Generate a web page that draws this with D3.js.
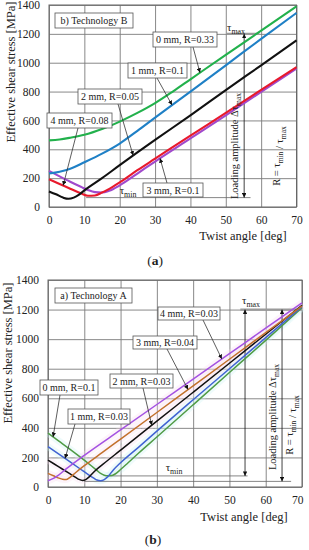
<!DOCTYPE html>
<head>
<meta charset="utf-8" />
<script src="https://d3js.org/d3.v7.min.js"></script>
<style>
    body { margin: 0; background: #fff; }
    svg text { font-family: "Liberation Serif", "DejaVu Serif", serif; fill: #222; }
</style>
</head>
<body>
<div id="chart"></div>
<script>
// twist angle [deg], effective shear stress [MPa]
var xTicks = [0, 10, 20, 30, 40, 50, 60, 70];
var yTicks = [0, 200, 400, 600, 800, 1000, 1200, 1400];

// b) Technology B
var techB_labels = ["0 mm, R=0.33", "1 mm, R=0.1", "2 mm, R=0.05", "3 mm, R=0.1", "4 mm, R=0.08"];
var techB_0mm = [[0,462],[3,468],[6,480],[10,500],[15,540],[20,592],[25,652],[30,720],[35,800],[40,885],[50,1055],[60,1222],[70,1390]];
var techB_1mm = [[0,232],[3,245],[6,265],[10,310],[15,370],[20,440],[25,528],[30,620],[40,800],[50,982],[60,1165],[70,1345]];
var techB_2mm = [[0,108],[2,88],[4,65],[5.5,57],[7,65],[8.5,85],[10,115],[15,200],[20,290],[25,378],[30,465],[40,635],[50,810],[60,982],[70,1155]];
var techB_3mm = [[0,192],[3,160],[6,127],[9,95],[11,78],[13,80],[15,100],[18,140],[20,170],[25,255],[30,335],[40,495],[50,652],[60,812],[70,970]];
var techB_4mm = [[0,250],[3,212],[6,175],[9,140],[11,118],[13,103],[15,100],[17,112],[20,150],[25,232],[30,315],[40,475],[50,635],[60,798],[70,960]];

// a) Technology A
var techA_labels = ["0 mm, R=0.1", "1 mm, R=0.03", "2 mm, R=0.03", "3 mm, R=0.04", "4 mm, R=0.03"];
var techA_0mm = [[0,364],[3,310],[6,256],[9,200],[12,142],[13.5,112],[14.5,92],[15.5,80],[16.5,76],[17.5,77],[18.5,88],[20,118],[22,162],[25,230],[30,338],[40,556],[50,774],[60,992],[70,1212]];
var techA_1mm = [[0,273],[3,222],[6,171],[9,120],[11,86],[12.5,62],[13.5,47],[14.5,42],[15.5,50],[16.5,70],[18,115],[20,164],[25,270],[30,378],[40,590],[50,800],[60,1010],[70,1220]];
var techA_2mm = [[0,182],[3,136],[6,90],[7.5,67],[8.5,52],[9.5,44],[10.5,52],[11.5,72],[13,110],[15,151],[20,249],[25,347],[30,445],[40,641],[50,837],[60,1033],[70,1229]];
var techA_3mm = [[0,92],[1.5,76],[3,60],[4,52],[5,50],[6,64],[7.5,95],[10,144],[15,234],[20,324],[30,504],[40,684],[50,864],[60,1044],[70,1224]];
var techA_4mm = [[0,42],[1.5,58],[3,82],[5,122],[10,214],[20,386],[30,558],[40,730],[50,902],[60,1074],[70,1245]];

var width = 309, height = 550;
var serif = "'Liberation Serif', 'DejaVu Serif', serif";

var svg = d3.select("#chart")
    .append("svg")
    .attr("width", width)
    .attr("height", height)
    .attr("font-family", serif);

svg.append("rect").attr("width", width).attr("height", height).attr("fill", "#fff");

svg.append("defs").append("marker")
    .attr("id", "head")
    .attr("viewBox", "0 0 6 6")
    .attr("refX", 6).attr("refY", 3)
    .attr("markerUnits", "userSpaceOnUse")
    .attr("markerWidth", 4.5).attr("markerHeight", 4.5)
    .attr("orient", "auto-start-reverse")
    .append("path").attr("d", "M0,0L6,3L0,6Z").attr("fill", "#111");

// value of a series at a given angle (for pointing arrows at curves)
function valueAt(series, a) {
    for (var i = 1; i < series.length; i++) {
        if (a <= series[i][0]) {
            var p = series[i - 1], q = series[i];
            return p[1] + (q[1] - p[1]) * (a - p[0]) / (q[0] - p[0]);
        }
    }
    return series[series.length - 1][1];
}

// "τ" + subscript
function tau(text, sub, size) {
    text.append("tspan").text("τ");
    text.append("tspan").attr("font-size", size * 0.72).attr("dy", size * 0.3).text(sub);
    text.append("tspan").attr("dy", -size * 0.3).text("");
}

function drawPanel(p) {
    var x = d3.scaleLinear().domain([0, 70]).range([p.left, p.right]);
    var y = d3.scaleLinear().domain([0, 1400]).range([p.bottom, p.top]);
    var g = svg.append("g");

    // grid + tick labels
    var gx = g.append("g")
        .attr("transform", "translate(0," + p.bottom + ")")
        .call(d3.axisBottom(x).tickValues(xTicks).tickFormat(d3.format("d"))
            .tickSizeInner(-(p.bottom - p.top)).tickSizeOuter(0).tickPadding(9));
    var gy = g.append("g")
        .attr("transform", "translate(" + p.left + ",0)")
        .call(d3.axisLeft(y).tickValues(yTicks).tickFormat(d3.format("d"))
            .tickSizeInner(-(p.right - p.left)).tickSizeOuter(0).tickPadding(9));
    [gx, gy].forEach(function(a) {
        a.attr("font-family", serif);
        a.select(".domain").remove();
        a.selectAll("line").attr("stroke", "#7a7a7a").attr("stroke-width", 0.9);
        a.selectAll("text").attr("font-size", 11.5).attr("fill", "#333");
    });
    if (p.lastTickEnd) {
        gx.selectAll("text").filter(function(d) { return d === 70; })
            .attr("text-anchor", "end").attr("x", 1);
    }

    g.append("rect")
        .attr("x", p.left).attr("y", p.top)
        .attr("width", p.right - p.left).attr("height", p.bottom - p.top)
        .attr("fill", "none").attr("stroke", "#666").attr("stroke-width", 1);

    var line = d3.line()
        .x(function(d) { return x(d[0]); })
        .y(function(d) { return y(d[1]); })
        .curve(d3.curveMonotoneX);

    if (p.halo) {
        g.selectAll(".halo")
            .data(p.series)
            .join("path")
            .attr("d", function(d) { return line(d.values); })
            .attr("fill", "none")
            .attr("stroke", function(d, i) { return i < 2 ? "#c9f3f1" : "#f7d9ef"; })
            .attr("stroke-width", 7)
            .attr("opacity", 0.3);
    }

    // τ lines and amplitude arrows
    g.append("line")
        .attr("x1", x(p.tmax[0])).attr("x2", x(p.tmax[1]))
        .attr("y1", y(1200)).attr("y2", y(1200))
        .attr("stroke", "#9a9a9a").attr("stroke-width", 2.2);
    p.tmins.forEach(function(t) {
        g.append("line")
            .attr("x1", x(t[1])).attr("x2", x(t[2]))
            .attr("y1", y(t[0])).attr("y2", y(t[0]))
            .attr("stroke", "#666").attr("stroke-width", 0.8);
    });
    p.amps.forEach(function(a) {
        g.append("line")
            .attr("x1", x(a[0])).attr("x2", x(a[0]))
            .attr("y1", y(1200)).attr("y2", y(a[1]))
            .attr("stroke", "#111").attr("stroke-width", 0.8)
            .attr("marker-start", "url(#head)")
            .attr("marker-end", "url(#head)");
    });

    g.selectAll(".curve")
        .data(p.series)
        .join("path")
        .attr("d", function(d) { return line(d.values); })
        .attr("fill", "none")
        .attr("stroke", function(d) { return d.color; })
        .attr("stroke-width", p.lineWidth);

    var tmaxLabel = g.append("text").attr("x", p.tmaxLabel[0]).attr("y", p.tmaxLabel[1])
        .attr("text-anchor", "middle").attr("font-size", 11);
    tau(tmaxLabel, "max", 11);
    var tminLabel = g.append("text").attr("x", p.tminLabel[0]).attr("y", p.tminLabel[1])
        .attr("text-anchor", "middle").attr("font-size", 11);
    tau(tminLabel, "min", 11);

    // labelled boxes with arrows to the curves
    p.notes.forEach(function(n) {
        if (n.series != null) {
            var s = p.series[n.series].values;
            var y0 = n.up ? n.box[1] : n.box[1] + n.box[3];
            g.append("line")
                .attr("x1", n.from).attr("y1", y0)
                .attr("x2", x(n.at)).attr("y2", y(valueAt(s, n.at)))
                .attr("stroke", "#333").attr("stroke-width", 0.8)
                .attr("marker-end", "url(#head)");
        }
        g.append("rect")
            .attr("x", n.box[0]).attr("y", n.box[1])
            .attr("width", n.box[2]).attr("height", n.box[3])
            .attr("fill", "#fff").attr("stroke", "#555").attr("stroke-width", 0.8);
        g.append("text")
            .attr("x", n.box[0] + n.box[2] / 2).attr("y", n.box[1] + n.box[3] / 2 + 3.6)
            .attr("text-anchor", "middle").attr("font-size", 10)
            .text(n.text);
    });

    // rotated notes
    var amp = g.append("text")
        .attr("transform", "translate(" + p.ampText[0] + "," + p.ampText[1] + ") rotate(-90)")
        .attr("text-anchor", "middle").attr("font-size", 10.5);
    amp.append("tspan").text("Loading amplitude Δ");
    tau(amp, "max", 10.5);

    var r = g.append("text")
        .attr("transform", "translate(" + p.rText[0] + "," + p.rText[1] + ") rotate(-90)")
        .attr("text-anchor", "middle").attr("font-size", 10.5);
    r.append("tspan").text("R = ");
    tau(r, "min", 10.5);
    r.append("tspan").text(" / ");
    tau(r, "max", 10.5);

    // axis titles
    g.append("text")
        .attr("transform", "translate(" + p.yTitle[0] + "," + p.yTitle[1] + ") rotate(-90)")
        .attr("text-anchor", "middle").attr("dy", "0.35em").attr("font-size", 12.5)
        .text("Effective shear stress  [MPa]");
    g.append("text")
        .attr("x", p.xTitle[0]).attr("y", p.xTitle[1])
        .attr("text-anchor", "middle").attr("font-size", 12.5)
        .text("Twist angle [deg]");

    var cap = g.append("text")
        .attr("x", p.caption[0]).attr("y", p.caption[1])
        .attr("text-anchor", "middle").attr("font-size", 13.5).attr("fill", "#111");
    cap.append("tspan").text("(");
    cap.append("tspan").attr("font-weight", "bold").text(p.letter);
    cap.append("tspan").text(")");
}

var colorsB = ["#22b14c", "#1f80c6", "#111111", "#e8192c", "#a049cc"];
var colorsA = ["#4f9b45", "#4062d2", "#111111", "#c2712c", "#a452e2"];
var seriesB = [techB_0mm, techB_1mm, techB_2mm, techB_3mm, techB_4mm];
var seriesA = [techA_0mm, techA_1mm, techA_2mm, techA_3mm, techA_4mm];

function makeSeries(list, labels, colors, order) {
    return order.map(function(i) { return { values: list[i], name: labels[i], color: colors[i] }; });
}

// top panel: b) Technology B  (series order: 4mm, 3mm, 1mm, 0mm, 2mm)
var topSeries = makeSeries(seriesB, techB_labels, colorsB, [4, 3, 1, 0, 2]);
drawPanel({
    left: 49, right: 296.5, top: 5, bottom: 207,
    series: topSeries, lineWidth: 2.1, halo: false,
    tmax: [50.3, 59.5], tmaxLabel: [236, 31],
    tmins: [[65, 10.5, 57]], tminLabel: [128, 194],
    amps: [[55.2, 65]],
    ampText: [238, 146], rText: [280, 156],
    notes: [
        { text: "b) Technology B", box: [55, 13, 78, 15] },
        { text: techB_labels[0], box: [153, 32, 64, 15], series: 3, at: 42.7, from: 193 },
        { text: techB_labels[1], box: [128, 63, 59, 15], series: 2, at: 34.8, from: 157 },
        { text: techB_labels[2], box: [78, 89, 64, 15], series: 4, at: 23.8, from: 118 },
        { text: techB_labels[4], box: [47, 113, 65, 15], series: 1, at: 4.0, from: 78 },
        { text: techB_labels[3], box: [143, 183, 60, 14], series: 0, at: 31.4, from: 167, up: true }
    ],
    yTitle: [11, 72], xTitle: [243, 240], caption: [155, 265], letter: "a"
});

// bottom panel: a) Technology A  (series order: 0mm, 1mm, 2mm, 3mm, 4mm)
var bottomSeries = makeSeries(seriesA, techA_labels, colorsA, [0, 1, 2, 3, 4]);
drawPanel({
    left: 48, right: 302, top: 280, bottom: 487,
    series: bottomSeries, lineWidth: 1.5, halo: true, lastTickEnd: true,
    tmax: [53, 70], tmaxLabel: [251, 304],
    tmins: [[75, 16.5, 55], [38, 10, 67]], tminLabel: [174, 471],
    amps: [[54.3, 75], [64.5, 38]],
    ampText: [276, 417], rText: [293, 425],
    notes: [
        { text: "a) Technology A", box: [55, 288, 77, 15] },
        { text: techA_labels[0], box: [40, 380, 58, 15], series: 0, at: 1.4, from: 60 },
        { text: techA_labels[1], box: [68, 409, 62, 15], series: 1, at: 4.7, from: 75 },
        { text: techA_labels[2], box: [110, 374, 63, 14], series: 2, at: 28.6, from: 143 },
        { text: techA_labels[3], box: [133, 336, 64, 13], series: 3, at: 38.6, from: 167 },
        { text: techA_labels[4], box: [158, 307, 62, 13], series: 4, at: 47.9, from: 203 }
    ],
    yTitle: [8, 353], xTitle: [244, 521], caption: [153, 544], letter: "b"
});
</script>
</body>
